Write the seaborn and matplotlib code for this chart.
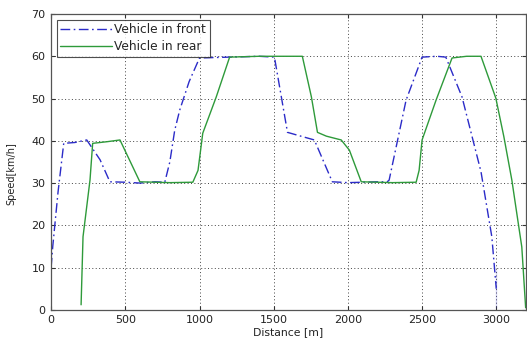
import matplotlib
matplotlib.use("Agg")
import matplotlib.pyplot as plt
import seaborn as sns
import pandas as pd

front_x = [0, 11, 47, 85, 160, 240, 330, 396, 500, 600, 700, 766, 800, 833, 867, 930, 1000,
           1200, 1400, 1505, 1593, 1693, 1774, 1895, 2000, 2100, 2200, 2265, 2278, 2392, 2500,
           2600, 2660, 2769, 2897, 2970, 3000, 3000]
front_y = [10, 15, 28, 39.4, 39.6, 40.2, 35.5, 30.3, 30.2, 30.0, 30.3, 30.2, 35, 42.5, 47.3, 54, 59.6,
           59.8, 60, 59.8, 42, 41, 40.2, 30.3, 30.1, 30.2, 30.3, 30.3, 30.7, 49.6, 59.8,
           60, 59.8, 50.4, 32.7, 17.3, 9.5, 0.5]

rear_x = [202, 215, 262, 280, 380, 464, 598, 700, 800, 955, 990, 1022, 1113, 1203, 1400, 1600, 1693,
          1754, 1795, 1855, 1955, 2010, 2090, 2200, 2300, 2460, 2480, 2500, 2594, 2702, 2800, 2897,
          2997, 3051, 3105, 3138, 3172, 3198]
rear_y = [1.2, 17.3, 30.7, 39.4, 39.8, 40.2, 30.3, 30.2, 30.1, 30.2, 33, 41.8, 50.4, 59.8, 60, 60, 60,
          50.4, 42, 41.1, 40.2, 37.8, 30.3, 30.2, 30.1, 30.2, 33, 40.2, 49.6, 59.6, 60, 60,
          50.1, 41, 30.7, 22.9, 14.9, 0.5]

labels = ["Vehicle in front", "Vehicle in rear"]
x_ticks = [0, 500, 1000, 1500, 2000, 2500, 3000]
y_ticks = [0, 10, 20, 30, 40, 50, 60, 70]

df = pd.concat([
    pd.DataFrame({"x": front_x, "y": front_y, "s": labels[0]}),
    pd.DataFrame({"x": rear_x, "y": rear_y, "s": labels[1]}),
])

sns.set_theme(style="white")
plt.rcParams["font.family"] = ["DejaVu Sans"]

fig = plt.figure(figsize=(5.27, 3.42), dpi=100)
ax = fig.add_axes([0.097, 0.094, 0.901, 0.865])

sub = df[df.s == labels[0]]
sns.lineplot(data=sub, x="x", y="y", sort=False, ax=ax, color="#2b2bc8",
             linestyle=(0, (7, 2.5, 1.2, 2.5)), linewidth=1.0, label=labels[0])
sub = df[df.s == labels[1]]
sns.lineplot(data=sub, x="x", y="y", sort=False, ax=ax, color="#2e9a3a",
             linewidth=1.0, label=labels[1])

ax.set_xlim(0, 3200)
ax.set_ylim(0, 70)
ax.set_xticks(x_ticks)
ax.set_yticks(y_ticks)
ax.grid(True, color="#444444", linestyle=(0, (1, 2.5)), linewidth=0.7)
for sp in ax.spines.values():
    sp.set_color("#555555")
    sp.set_linewidth(0.9)
ax.tick_params(direction="in", length=3, width=0.8, colors="#333333", labelsize=8,
               top=True, right=True, bottom=True, left=True)
ax.tick_params(axis="y", pad=4)
ax.tick_params(axis="x", pad=3.5)
ax.tick_params(axis="both", labelcolor="#222222")
ax.set_xlabel("Distance [m]", fontsize=7.8, color="#222222")
ax.set_ylabel("Speed[km/h]", fontsize=7, color="#222222")
ax.xaxis.set_label_coords(0.5, -0.058)
ax.yaxis.set_label_coords(-0.074, 0.46)
leg = ax.legend(loc="upper left", fontsize=8.8, frameon=True, fancybox=False,
                borderaxespad=0.45, handlelength=4.2, borderpad=0.3, labelspacing=0.3,
                handletextpad=0.2)
leg.get_frame().set_edgecolor("#222222")
leg.get_frame().set_linewidth(0.8)

fig.savefig("out.png", dpi=100)
